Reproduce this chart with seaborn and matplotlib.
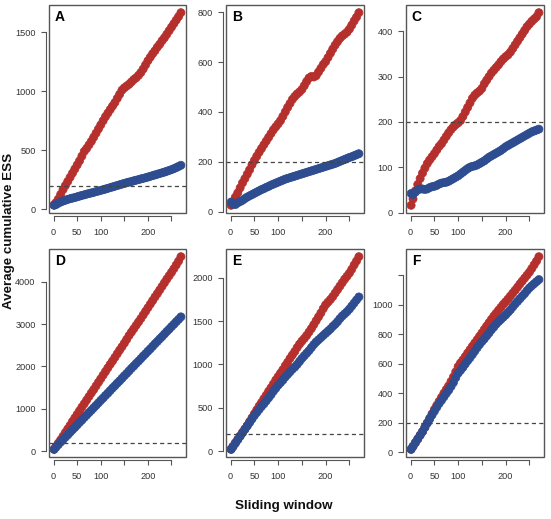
import matplotlib
matplotlib.use("Agg")
import matplotlib.pyplot as plt
from matplotlib.patches import Rectangle
import pandas as pd
import seaborn as sns

sns.set_theme(style="ticks")
plt.rcParams["font.family"] = ["Liberation Sans", "DejaVu Sans"]

# ---------------- data ----------------
window = [1] + list(range(5, 271, 5))

A_red = [35, 55, 85, 125, 165, 200, 235, 270, 305, 340, 375, 410, 450, 490, 515, 545, 575, 610, 645, 680,
         715, 750, 785, 815, 845, 875, 905, 940, 975, 1010, 1030, 1045, 1060, 1080, 1100, 1115, 1135, 1160,
         1190, 1225, 1260, 1290, 1320, 1345, 1375, 1400, 1430, 1455, 1485, 1515, 1545, 1575, 1605, 1635, 1668]
A_blue = [32, 38, 50, 60, 68, 75, 82, 88, 93, 98, 104, 110, 116, 121, 127, 132, 137, 142, 148, 153,
          159, 164, 170, 176, 182, 188, 194, 200, 206, 212, 218, 224, 229, 234, 240, 245, 250, 256, 261, 266,
          272, 278, 284, 290, 296, 302, 308, 314, 321, 328, 335, 343, 352, 362, 372]

B_red = [25, 40, 58, 75, 95, 115, 132, 150, 168, 188, 205, 222, 238, 253, 268, 283, 298, 313, 328, 340,
         352, 365, 382, 400, 418, 434, 450, 462, 472, 480, 490, 505, 522, 536, 542, 540, 545, 560, 575, 590,
         602, 618, 635, 652, 668, 682, 695, 705, 712, 720, 732, 748, 765, 780, 798]
B_blue = [38, 30, 28, 35, 40, 45, 52, 58, 63, 68, 73, 78, 83, 88, 92, 97, 101, 106, 110, 114,
          118, 122, 126, 130, 133, 136, 139, 142, 145, 148, 151, 154, 157, 160, 163, 166, 169, 172, 175, 178,
          181, 184, 187, 190, 193, 197, 201, 205, 209, 213, 217, 220, 224, 228, 232]

C_red = [16, 30, 48, 62, 75, 87, 98, 108, 116, 123, 130, 138, 146, 152, 160, 168, 176, 183, 189, 194,
         198, 203, 212, 222, 232, 242, 252, 259, 264, 268, 274, 284, 292, 300, 308, 314, 320, 326, 333, 339,
         344, 348, 354, 362, 370, 378, 386, 394, 402, 410, 416, 422, 427, 432, 441]
C_blue = [42, 40, 45, 50, 52, 52, 51, 52, 55, 57, 58, 60, 63, 65, 66, 67, 69, 72, 75, 78,
          81, 85, 89, 93, 97, 100, 102, 103, 105, 108, 111, 114, 118, 122, 125, 128, 131, 134, 137, 141,
          145, 148, 151, 154, 157, 160, 163, 166, 169, 172, 175, 178, 180, 182, 184]

D_red = [45, 110, 190, 270, 355, 440, 525, 610, 700, 785, 870, 955, 1040, 1120, 1205, 1290, 1375, 1455, 1540, 1625,
         1710, 1795, 1880, 1965, 2050, 2130, 2215, 2300, 2385, 2465, 2550, 2640, 2730, 2810, 2890, 2970, 3050, 3130,
         3215, 3300, 3385, 3470, 3555, 3640, 3720, 3805, 3890, 3975, 4060, 4140, 4220, 4305, 4395, 4485, 4590]
D_blue = [45, 95, 155, 215, 270, 330, 385, 445, 505, 560, 620, 680, 735, 795, 850, 910, 965, 1025, 1080, 1140,
          1200, 1255, 1315, 1370, 1430, 1490, 1545, 1605, 1660, 1720, 1780, 1835, 1895, 1955, 2010, 2070, 2125, 2185,
          2245, 2300, 2360, 2415, 2475, 2535, 2590, 2650, 2705, 2765, 2825, 2880, 2940, 2995, 3055, 3110, 3170]

E_red = [20, 55, 95, 135, 175, 215, 255, 295, 340, 385, 430, 475, 520, 560, 605, 645, 690, 730, 775, 820,
         860, 900, 940, 985, 1025, 1070, 1110, 1150, 1195, 1235, 1270, 1300, 1335, 1375, 1415, 1460, 1505, 1550,
         1595, 1645, 1690, 1720, 1750, 1785, 1825, 1865, 1905, 1945, 1985, 2020, 2055, 2100, 2150, 2195, 2245]
E_blue = [20, 50, 90, 130, 170, 210, 250, 290, 330, 370, 410, 445, 480, 515, 545, 580, 615, 650, 690, 725,
          760, 790, 820, 855, 885, 915, 945, 970, 1000, 1035, 1070, 1100, 1130, 1160, 1195, 1230, 1260, 1285,
          1310, 1335, 1360, 1385, 1410, 1440, 1465, 1495, 1530, 1560, 1585, 1610, 1640, 1675, 1710, 1745, 1780]

F_red = [20, 40, 65, 90, 115, 140, 170, 200, 230, 260, 290, 318, 345, 372, 400, 425, 450, 480, 510, 545,
         580, 605, 625, 648, 672, 695, 718, 740, 762, 785, 808, 832, 855, 878, 900, 922, 942, 962, 982, 1002,
         1020, 1038, 1058, 1078, 1098, 1118, 1140, 1160, 1180, 1200, 1220, 1245, 1270, 1295, 1325]
F_blue = [20, 40, 65, 90, 115, 140, 168, 196, 224, 252, 278, 305, 330, 352, 375, 398, 420, 445, 472, 505,
          535, 555, 575, 598, 620, 640, 662, 685, 708, 730, 750, 768, 788, 808, 830, 848, 868, 885, 900, 915,
          930, 948, 965, 985, 1005, 1022, 1040, 1058, 1075, 1095, 1113, 1128, 1142, 1156, 1170]

panel_letters = ["A", "B", "C", "D", "E", "F"]
y_ticks = [[0, 500, 1000, 1500], [0, 200, 400, 600, 800], [0, 100, 200, 300, 400],
           [0, 1000, 2000, 3000, 4000], [0, 500, 1000, 1500, 2000], [0, 200, 400, 600, 800, 1000, 1200]]
y_ticklabels = [["0", "500", "1000", "1500"], ["0", "200", "400", "600", "800"],
                ["0", "100", "200", "300", "400"], ["0", "1000", "2000", "3000", "4000"],
                ["0", "500", "1000", "1500", "2000"], ["0", "200", "400", "600", "800", "1000", ""]]
x_ticks = [0, 50, 100, 150, 200, 250]
x_ticklabels = ["0", "50", "100", "", "200", ""]
threshold = 200

reds = [A_red, B_red, C_red, D_red, E_red, F_red]
blues = [A_blue, B_blue, C_blue, D_blue, E_blue, F_blue]

# ---------------- style ----------------
RED = "#B52F2D"
BLUE = "#2E4C90"
GRAY = "#555555"
W, H = 551, 519

cols = [(49, 137), (226, 138), (406, 138)]
rows = [(5, 213), (249, 457)]

fig = plt.figure(figsize=(W / 100, H / 100), dpi=100)

for i in range(6):
    r, c = divmod(i, 3)
    left, width = cols[c]
    top, bottom = rows[r]
    ax = fig.add_axes([left / W, 1 - bottom / H, width / W, (bottom - top) / H])
    n = len(window)
    df = pd.DataFrame({
        "window": window + window,
        "ess": reds[i] + blues[i],
        "method": ["red"] * n + ["blue"] * n,
    })
    sns.scatterplot(data=df, x="window", y="ess", hue="method",
                    palette={"red": RED, "blue": BLUE}, s=34, linewidth=0.5,
                    edgecolor="face", legend=False, ax=ax, zorder=3)
    ax.axhline(threshold, color="#444444", lw=0.9, ls=(0, (3.3, 2.6)), zorder=4)

    xr = max(window) - min(window)
    ax.set_xlim(min(window) - 0.04 * xr, max(window) + 0.04 * xr)
    allv = reds[i] + blues[i]
    yr = max(allv) - min(allv)
    ax.set_ylim(min(allv) - 0.04 * yr, max(allv) + 0.04 * yr)

    ax.set_xticks(x_ticks)
    ax.set_xticklabels(x_ticklabels)
    ax.set_yticks(y_ticks[i])
    ax.set_yticklabels(y_ticklabels[i], rotation=90, va="center")
    ax.set_xlabel("")
    ax.set_ylabel("")

    for s in ["top", "right"]:
        ax.spines[s].set_visible(False)
    for s in ["left", "bottom"]:
        ax.spines[s].set_position(("outward", 2.5))
        ax.spines[s].set_color(GRAY)
        ax.spines[s].set_linewidth(0.8)
    ax.spines["bottom"].set_bounds(x_ticks[0], x_ticks[-1])
    ax.spines["left"].set_bounds(y_ticks[i][0], y_ticks[i][-1])
    ax.add_patch(Rectangle((0, 0), 1, 1, transform=ax.transAxes, fill=False,
                           ec=GRAY, lw=1.0, clip_on=False, zorder=5))
    ax.tick_params(axis="both", direction="out", length=3.6, width=0.8, color=GRAY,
                   labelsize=6.6, labelcolor="#333333")
    ax.tick_params(axis="x", pad=4.5)
    ax.tick_params(axis="y", pad=3.5)
    ax.annotate(panel_letters[i], xy=(0, 1), xycoords="axes fraction",
                xytext=(4.2, -3.6), textcoords="offset points", ha="left", va="top",
                fontsize=10, fontweight="bold", color="black", zorder=6)

fig.text(9.5 / W, 1 - 231 / H, "Average cumulative ESS", rotation=90,
         ha="center", va="center", fontsize=9.6, fontweight="bold", color="#111111")
fig.text(284 / W, 1 - 506 / H, "Sliding window", ha="center", va="center",
         fontsize=9.6, fontweight="bold", color="#111111")

fig.savefig("out.png", dpi=100)
